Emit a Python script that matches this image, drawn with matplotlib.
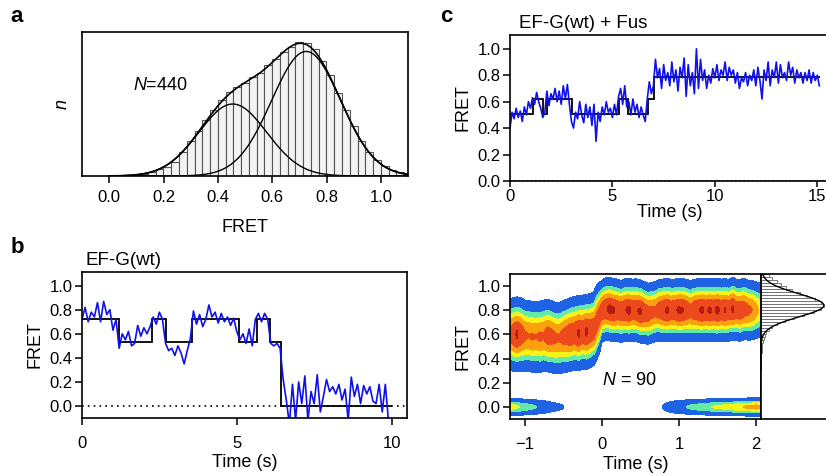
"""
smFRET figure: histogram (a), single traces (b, c) and post-synchronized density (d)
"""

import numpy as np
import matplotlib
matplotlib.use("Agg")
import matplotlib.pyplot as plt

plt.rcParams['font.family'] = 'Liberation Sans'
plt.rcParams['mathtext.fontset'] = 'custom'
plt.rcParams['mathtext.rm'] = 'Liberation Sans'
plt.rcParams['mathtext.it'] = 'Liberation Sans:italic'

W, H = 826, 476
BLUE = '#1010e8'

# ---- panel a : FRET histogram with two-gaussian fit
hist_a_bin = 1 / 35
hist_a_counts = [0.000, 0.002, 0.004, 0.009, 0.017, 0.030, 0.050, 0.065, 0.100, 0.165,
                 0.245, 0.310, 0.390, 0.460, 0.530, 0.580, 0.620, 0.646, 0.690, 0.715,
                 0.770, 0.815, 0.860, 0.895, 0.930, 0.925, 0.880, 0.800, 0.700, 0.575,
                 0.460, 0.345, 0.245, 0.170, 0.110, 0.070, 0.040, 0.025, 0.012]
fit_a_amp = [0.50, 0.865]
fit_a_mean = [0.455, 0.725]
fit_a_sigma = [0.125, 0.127]

# ---- panel b : EF-G(wt) trace
trace_b_dt = 0.1
trace_b = [0.72, 0.82, 0.70, 0.78, 0.74, 0.86, 0.70, 0.87, 0.76, 0.80,
           0.63, 0.72, 0.48, 0.60, 0.55, 0.62, 0.50, 0.52, 0.67, 0.58,
           0.65, 0.60, 0.66, 0.74, 0.68, 0.78, 0.72, 0.52, 0.46, 0.48,
           0.42, 0.50, 0.44, 0.35, 0.46, 0.56, 0.79, 0.68, 0.76, 0.66,
           0.72, 0.84, 0.74, 0.78, 0.69, 0.77, 0.70, 0.74, 0.67, 0.73,
           0.62, 0.55, 0.60, 0.52, 0.64, 0.50, 0.72, 0.77, 0.70, 0.77,
           0.72, 0.52, 0.50, 0.52, 0.48, 0.22, 0.05, -0.15, 0.18, -0.12,
           0.20, 0.02, 0.25, -0.12, 0.12, 0.02, 0.26, -0.05, 0.08, 0.22,
           0.12, 0.16, 0.10, 0.18, 0.05, 0.14, -0.12, 0.24, 0.08, 0.18,
           0.02, 0.17, 0.10, 0.16, 0.04, 0.02, 0.18, -0.05, 0.18, -0.12]
steps_b_edges = [0, 1.2, 2.25, 2.72, 3.55, 5.06, 5.65, 6.06, 6.44, 10.0]
steps_b_level = [0.72, 0.53, 0.72, 0.53, 0.72, 0.53, 0.72, 0.53, 0.0]

# ---- panel c : EF-G(wt) + Fus trace
trace_c_dt = 0.1
trace_c = [0.40, 0.52, 0.47, 0.55, 0.48, 0.53, 0.45, 0.56, 0.50, 0.60, 0.55,
           0.63, 0.58, 0.67, 0.60, 0.55,
           0.48, 0.52,
           0.68, 0.57, 0.66, 0.62, 0.70, 0.60, 0.68, 0.58, 0.72, 0.62, 0.73, 0.58,
           0.45, 0.40, 0.52, 0.47, 0.60, 0.50, 0.44, 0.58, 0.48, 0.56, 0.42, 0.58,
           0.30, 0.52, 0.45, 0.56, 0.50, 0.60, 0.52, 0.55, 0.48, 0.58, 0.50,
           0.64, 0.70, 0.58, 0.72, 0.56,
           0.60, 0.50, 0.62, 0.52, 0.58, 0.48, 0.56, 0.50, 0.45,
           0.62, 0.75, 0.66,
           0.72, 0.92, 0.78, 0.85, 0.70, 0.88, 0.76, 0.82, 0.72, 0.90,
           0.75, 0.84, 0.68, 0.86, 0.78, 0.93, 0.64, 0.88, 0.72, 0.82,
           0.66, 1.00, 0.70, 0.92, 0.76, 0.84, 0.70, 0.80, 0.74, 0.85,
           0.78, 0.88, 0.76, 0.84, 0.80, 0.90, 0.76, 0.86, 0.80, 0.84,
           0.74, 0.82, 0.70, 0.78, 0.75, 0.82, 0.72, 0.80, 0.76, 0.84,
           0.72, 0.86, 0.76, 0.62, 0.84, 0.76, 0.90, 0.72, 0.84, 0.78,
           0.90, 0.74, 0.88, 0.78, 0.82, 0.76, 0.90, 0.80, 0.86, 0.74,
           0.84, 0.78, 0.82, 0.74, 0.82, 0.76, 0.84, 0.74, 0.82, 0.76,
           0.80, 0.72]
steps_c_edges = [0, 1.14, 1.63, 1.82, 3.05, 5.3, 5.75, 6.73, 7.04, 15.15]
steps_c_level = [0.51, 0.62, 0.51, 0.62, 0.51, 0.62, 0.51, 0.62, 0.79]

# ---- panel d : post-synchronized FRET density, one column every 0.05 s from -1.2 s
dens_t0 = -1.2
dens_dt = 0.05
band_amp = [0.80, 0.95, 1.10, 0.95, 0.80, 0.76, 0.78, 0.76, 0.80, 0.78,
            0.90, 0.86, 0.80, 0.78, 0.86, 0.92, 0.98, 0.96, 1.10, 0.98,
            1.10, 1.00, 0.95, 0.92,
            0.95, 1.02, 1.12, 1.10, 1.00, 0.98, 1.04, 1.12, 1.00, 1.04,
            1.10, 0.98, 0.90, 0.84, 0.82, 0.94, 1.02, 1.10, 0.98, 1.02,
            1.10, 1.08, 0.96, 0.86, 0.98, 1.04, 1.10, 1.02, 1.10, 1.02,
            1.12, 1.00, 1.08, 0.96, 1.10, 0.92, 0.98, 0.90, 0.82, 0.76,
            0.60, 0.48]
band_center = [0.60, 0.60, 0.60, 0.60, 0.59, 0.59, 0.58, 0.58, 0.58, 0.59,
               0.59, 0.58, 0.57, 0.57, 0.58, 0.59, 0.60, 0.61, 0.61, 0.62,
               0.62, 0.63, 0.65, 0.72,
               0.79, 0.81, 0.81, 0.80, 0.80, 0.79, 0.80, 0.80, 0.80, 0.80,
               0.79, 0.78, 0.77, 0.78, 0.79, 0.80, 0.80, 0.80, 0.80, 0.80,
               0.80, 0.80, 0.80, 0.79, 0.80, 0.80, 0.80, 0.80, 0.80, 0.80,
               0.80, 0.80, 0.80, 0.80, 0.81, 0.80, 0.80, 0.81, 0.80, 0.80,
               0.80, 0.80]
zero_amp = [0.45, 0.42, 0.38, 0.35, 0.32, 0.28, 0.25, 0.22, 0.19, 0.16,
            0.13, 0.10, 0.08, 0.065, 0.055, 0.03, 0.0, 0.0, 0.0, 0.0,
            0.0, 0.0, 0.0, 0.0,
            0.0, 0.0, 0.0, 0.0, 0.0, 0.0, 0.0, 0.0, 0.0, 0.0,
            0.0, 0.0, 0.0, 0.0, 0.0, 0.03, 0.06, 0.09, 0.12, 0.15,
            0.18, 0.20, 0.22, 0.25, 0.27, 0.29, 0.31, 0.33, 0.35, 0.37,
            0.38, 0.40, 0.42, 0.44, 0.46, 0.48, 0.50, 0.54, 0.56, 0.58,
            0.60, 0.58]
band_sigma_before = 0.125
band_sigma_after = 0.105
zero_sigma = 0.034
dens_levels = [0.05, 0.22, 0.36, 0.53, 0.76, 1.06, 5.0]
dens_colors = ['#1f62e4', '#62eaa6', '#f6f21a', '#fba10e', '#ec4a1c', '#b51a14']

# side histogram of panel d (0.025 bins from 0.45)
side_bin = 0.025
side_edges0 = 0.45
side_counts = [0.01, 0.02, 0.02, 0.03, 0.04, 0.06, 0.08, 0.12, 0.17, 0.25,
               0.38, 0.52, 0.68, 0.85, 0.95, 1.00, 0.96, 0.86, 0.74, 0.62,
               0.50, 0.40, 0.32, 0.25, 0.18, 0.12]
side_fit_mean = 0.84
side_fit_sigma = 0.095

TICK = 12
LABEL = 13


def px_axes(fig, left, top, right, bottom):
    """
    Add an axes given its box in pixels of the final image
    """
    return fig.add_axes([left / W, 1 - bottom / H, (right - left) / W, (bottom - top) / H])


def style(ax, xpad=5):
    for sp in ax.spines.values():
        sp.set_linewidth(1.2)
    ax.tick_params(direction='out', length=5, width=1.1, labelsize=TICK)
    ax.tick_params(axis='y', pad=2)
    ax.tick_params(axis='x', pad=xpad)


def fret_ticks(ax):
    ax.set_yticks([0, 0.2, 0.4, 0.6, 0.8, 1.0])
    ax.set_yticklabels(['0.0', '0.2', '0.4', '0.6', '0.8', '1.0'])


def panel_a(fig):
    ax = px_axes(fig, 82, 32, 408, 176)
    style(ax, xpad=5)
    edges = np.arange(len(hist_a_counts)) * hist_a_bin
    ax.bar(edges, hist_a_counts, width=hist_a_bin, align='edge',
           color='#f3f3f3', edgecolor='#555555', linewidth=0.8)
    x = np.linspace(0, 1.1, 400)
    total = np.zeros_like(x)
    for a, m, s in zip(fit_a_amp, fit_a_mean, fit_a_sigma):
        g = a * np.exp(-(x - m) ** 2 / (2 * s ** 2))
        total += g
        ax.plot(x, g, color='black', lw=1)
    ax.plot(x, total, color='black', lw=1.2)
    ax.set_xlim(-0.1, 1.1)
    ax.set_ylim(0, 1.0)
    ax.set_xticks([0.0, 0.2, 0.4, 0.6, 0.8, 1.0])
    ax.set_xticklabels(['0.0', '0.2', '0.4', '0.6', '0.8', '1.0'])
    ax.set_yticks([])
    ax.set_xlabel('FRET', fontsize=LABEL, labelpad=10)
    ax.set_ylabel('n', fontsize=LABEL, style='italic', labelpad=8)
    ax.text(0.088, 0.597, '$N$=440', fontsize=LABEL)


def panel_b(fig):
    ax = px_axes(fig, 82, 272, 407, 418)
    style(ax, xpad=8)
    t = np.arange(len(trace_b)) * trace_b_dt
    ax.axhline(0, color='black', ls=(0, (1, 2.5)), lw=1.2)
    ax.plot(t, trace_b, color=BLUE, lw=1.2)
    ax.stairs(steps_b_level, steps_b_edges, color='black', lw=1.3, baseline=None)
    ax.set_xlim(0, 10.5)
    ax.set_ylim(-0.1, 1.114)
    ax.set_xticks([0, 5, 10])
    fret_ticks(ax)
    ax.set_xlabel('Time (s)', fontsize=LABEL, labelpad=2)
    ax.set_ylabel('FRET', fontsize=LABEL, labelpad=4)
    ax.set_title('EF-G(wt)', fontsize=13.5, loc='left', pad=5, x=0.012)


def panel_c(fig):
    ax = px_axes(fig, 510, 35, 830, 181)
    style(ax, xpad=2)
    ax.tick_params(axis='x', length=4)
    t = np.arange(len(trace_c)) * trace_c_dt
    ax.axhline(0, color='black', ls=(0, (1, 1.5)), lw=1.2)
    ax.plot(t, trace_c, color=BLUE, lw=1.2)
    ax.stairs(steps_c_level, steps_c_edges, color='black', lw=1.3, baseline=None)
    ax.set_xlim(0, 15.62)
    ax.set_ylim(0, 1.104)
    ax.set_xticks([0, 5, 10, 15])
    fret_ticks(ax)
    ax.set_xlabel('Time (s)', fontsize=LABEL, labelpad=0)
    ax.set_ylabel('FRET', fontsize=LABEL, labelpad=4)
    ax.set_title('EF-G(wt) + Fus', fontsize=13.5, loc='left', pad=5, x=0.028)


def panel_d(fig):
    ax = px_axes(fig, 510, 274, 761, 419)
    style(ax, xpad=8)
    t = dens_t0 + np.arange(len(band_amp)) * dens_dt
    f = np.linspace(-0.12, 1.12, 300)
    T, F = np.meshgrid(t, f)
    sig = np.where(t < -0.02, band_sigma_before, band_sigma_after)
    Z = (np.array(band_amp) * np.exp(-(F - np.array(band_center)) ** 2 / (2 * sig ** 2))
         + np.array(zero_amp) * np.exp(-F ** 2 / (2 * zero_sigma ** 2)))
    ax.contourf(T, F, Z, levels=dens_levels, colors=dens_colors)
    ax.set_xlim(-1.19, 2.065)
    ax.set_ylim(-0.099, 1.099)
    ax.set_xticks([-1, 0, 1, 2])
    fret_ticks(ax)
    ax.set_xlabel('Time (s)', fontsize=LABEL, labelpad=3)
    ax.set_ylabel('FRET', fontsize=LABEL, labelpad=4)
    ax.text(0.0, 0.184, '$N$ = 90', fontsize=LABEL)

    side = px_axes(fig, 761, 274, 832, 419)
    style(side)
    y0 = side_edges0 + np.arange(len(side_counts)) * side_bin
    side.barh(y0, side_counts, height=side_bin, align='edge',
              color='white', edgecolor='#666666', linewidth=0.6)
    y = np.linspace(0.3, 1.1, 300)
    side.plot(np.exp(-(y - side_fit_mean) ** 2 / (2 * side_fit_sigma ** 2)), y,
              color='black', lw=1)
    side.set_xlim(0, 1.13)
    side.set_ylim(-0.099, 1.099)
    side.set_xticks([])
    side.set_yticks([])


def main():
    fig = plt.figure(figsize=(W / 100, H / 100), dpi=100)
    panel_a(fig)
    panel_b(fig)
    panel_c(fig)
    panel_d(fig)
    fig.text(10 / W, 1 - 22 / H, 'a', fontsize=16, fontweight='bold')
    fig.text(11 / W, 1 - 253 / H, 'b', fontsize=16, fontweight='bold')
    fig.text(440 / W, 1 - 22 / H, 'c', fontsize=16, fontweight='bold')
    fig.savefig('out.png', dpi=100)


if __name__ == "__main__":
    main()
